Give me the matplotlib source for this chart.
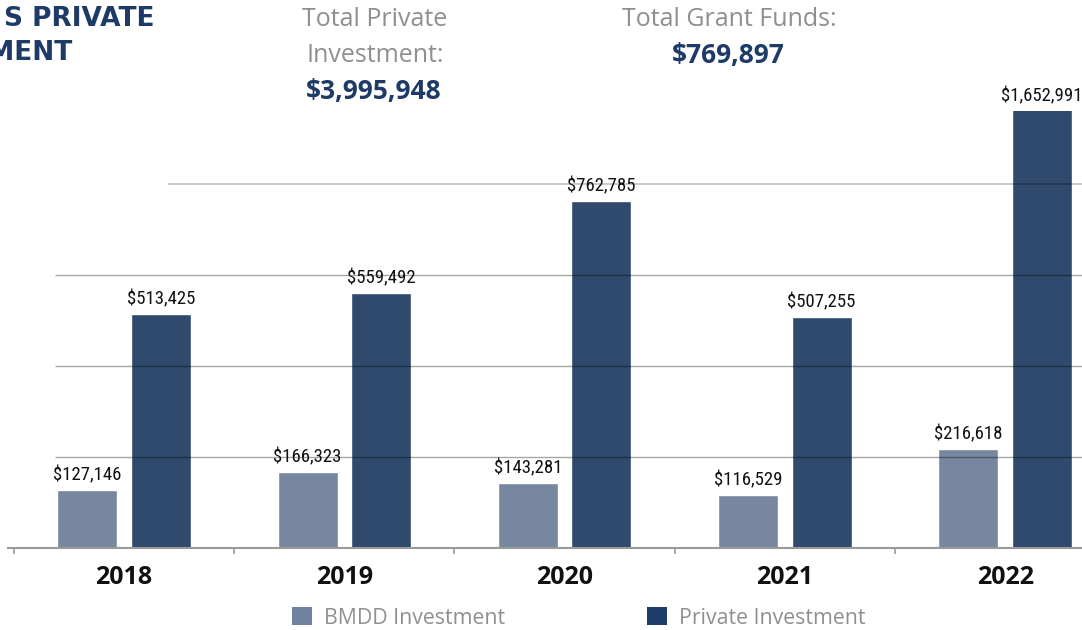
import matplotlib
matplotlib.use("Agg")
import matplotlib.pyplot as plt
from matplotlib import font_manager
from matplotlib.patches import Patch
import numpy as np

# ---- data ----
years = ["2018", "2019", "2020", "2021", "2022"]
bmdd = [127146, 166323, 143281, 116529, 216618]
private = [513425, 559492, 762785, 507255, 1652991]
series_names = ["BMDD Investment", "Private Investment"]
total_private_label = "$3,995,948"
total_grant_label = "$769,897"
title_line1 = "S PRIVATE"
title_line2 = "INVESTMENT"

# ---- fonts ----
available = {f.name for f in font_manager.fontManager.ttflist}
def pick(*names):
    for n in names:
        if n in available:
            return n
    return "DejaVu Sans"

narrow = pick("Liberation Sans Narrow", "DejaVu Sans Condensed", "Roboto Condensed", "Liberation Sans")
body = pick("Open Sans", "Lato", "DejaVu Sans")
wide = pick("Open Sans", "Lato", "DejaVu Sans")

C_BMDD = "#76879f"
C_PRIV = "#2f4a6c"
L_BMDD = "#6f83a0"
L_PRIV = "#1f3d6a"
NAVY = "#1e3a66"
GREY_TXT = "#8f8f8f"

W, H = 1082, 630
fig = plt.figure(figsize=(W / 100, H / 100), dpi=100)

def px(x, y):
    return x / W, 1 - y / H

ax_left, ax_right = 8 / W, 1.0
ax_bottom, ax_top = (H - 548) / H, (H - 111) / H
ax = fig.add_axes([ax_left, ax_bottom, ax_right - ax_left, ax_top - ax_bottom])

x = np.arange(len(years))
bw = 0.2724
off = 0.1668
ytop = 960000
ax.set_xlim(-0.5266, 4.3486)
ax.set_ylim(0, ytop)

ax.bar(x - off, bmdd, bw, color=C_BMDD, edgecolor="white", linewidth=1, zorder=2)
ax.bar(x + off, private, bw, color=C_PRIV, edgecolor="white", linewidth=1, zorder=2)

# gridlines on top of bars
for g in [200000, 400000, 600000]:
    ax.hlines(g, -0.313, 4.4, colors="black", alpha=0.35, linewidth=1, zorder=3)
ax.hlines(800000, 0.2, 4.4, colors="black", alpha=0.25, linewidth=1.2, zorder=3)

for xs, vals in [(x - off, bmdd), (x + off, private)]:
    for xi, v in zip(xs, vals):
        ax.annotate(f"${v:,}", (xi, min(v, ytop)), xytext=(0, 7), textcoords="offset points",
                    ha="center", va="baseline", fontsize=13.5, family=narrow, color="#111111",
                    annotation_clip=False, zorder=4)

for s in ["top", "right", "left"]:
    ax.spines[s].set_visible(False)
ax.spines["bottom"].set_color("#999999")
ax.spines["bottom"].set_linewidth(1.5)
ax.set_yticks([])
ax.set_xticks(x)
ax.set_xticklabels(years, fontsize=18, fontweight="bold", family=wide, color="#111111")
ax.tick_params(axis="x", which="major", length=0, pad=12)
ax.set_xticks(np.arange(len(years)) - 0.5, minor=True)
ax.tick_params(axis="x", which="minor", length=4, color="#999999", width=1.2)

# title fragments (cropped at left in the reference)
fig.text(*px(155, 19), title_line1, ha="right", va="center", fontsize=19, fontweight="bold",
         family="DejaVu Sans", color=NAVY)
fig.text(*px(73, 53), title_line2, ha="right", va="center", fontsize=19, fontweight="bold",
         family="DejaVu Sans", color=NAVY)

# totals
fig.text(*px(375, 19), "Total Private", ha="center", va="center", fontsize=18, family=body, color=GREY_TXT)
fig.text(*px(375, 56), "Investment:", ha="center", va="center", fontsize=18, family=body, color=GREY_TXT)
fig.text(*px(374, 92), total_private_label, ha="center", va="center", fontsize=19, fontweight="bold",
         family=wide, color=NAVY)
fig.text(*px(729, 19), "Total Grant Funds:", ha="center", va="center", fontsize=18, family=body, color=GREY_TXT)
fig.text(*px(728, 55), total_grant_label, ha="center", va="center", fontsize=19, fontweight="bold",
         family=wide, color=NAVY)

handles = [Patch(facecolor=L_BMDD, label=series_names[0]), Patch(facecolor=L_PRIV, label=series_names[1])]
fig.legend(handles=handles, loc="center", bbox_to_anchor=px(578.5, 618), ncol=2, frameon=False,
           handlelength=0.94, handleheight=0.94, handletextpad=0.56, columnspacing=6.7,
           prop={"family": body, "size": 15.3}, labelcolor=GREY_TXT, borderpad=0)

fig.savefig("out.png", dpi=100)
